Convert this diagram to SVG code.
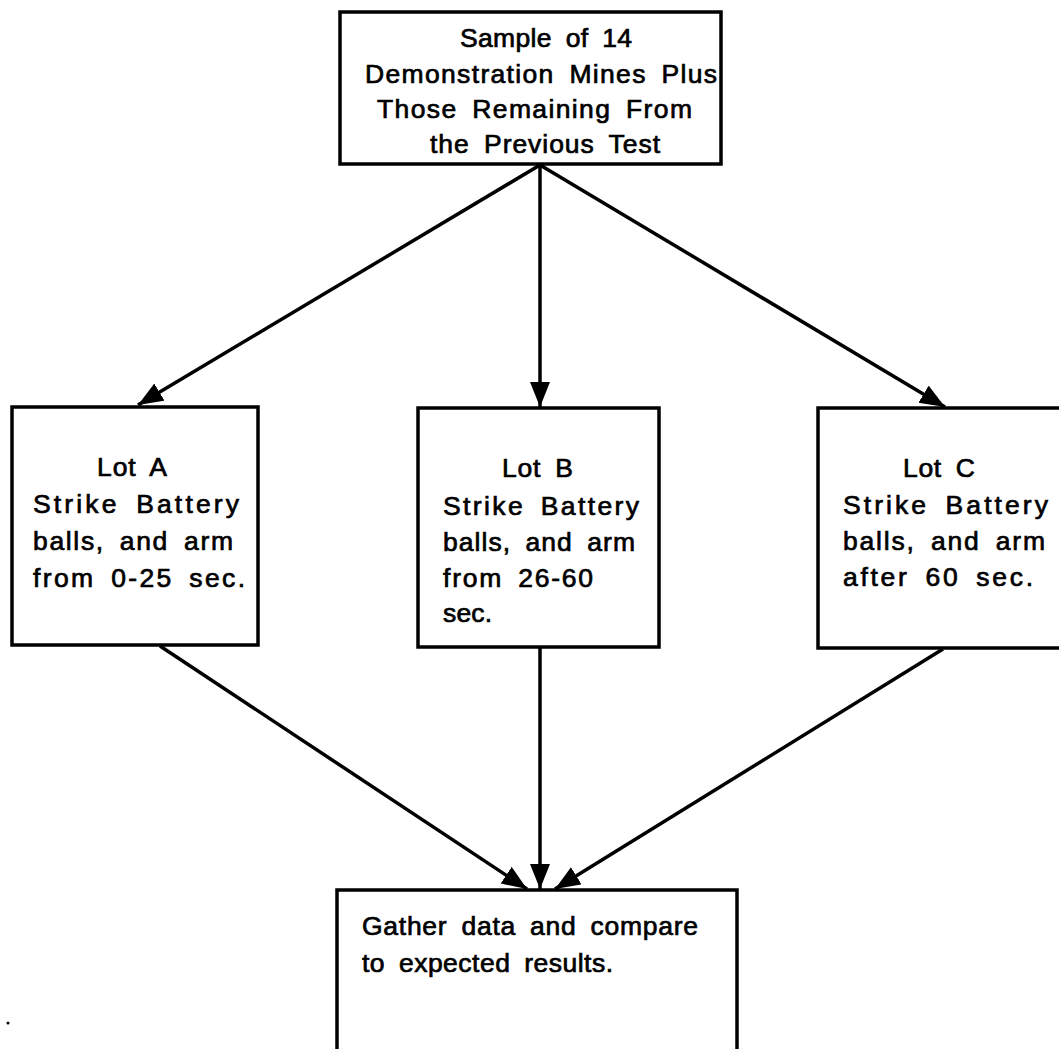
<svg xmlns="http://www.w3.org/2000/svg" width="1059" height="1049" viewBox="0 0 1059 1049">
<style>
.box{fill:#fff;stroke:#000;stroke-width:3.5}
.t{font-family:"Liberation Sans",Arial,sans-serif;font-size:26.5px;fill:#000;stroke:#000;stroke-width:0.7;word-spacing:6px}
.c{stroke:#000;stroke-width:3.5;fill:none;marker-end:url(#ah)}
</style>
<defs>
<marker id="ah" markerUnits="userSpaceOnUse" markerWidth="28" markerHeight="22" refX="25" refY="10" orient="auto">
<path d="M0,0 L25,10 L0,20 Z" fill="#000"/>
</marker>
</defs>
<rect width="1059" height="1049" fill="#fff"/>
<g id="connectors">
<line class="c" x1="540" y1="165" x2="138" y2="405"/>
<line class="c" x1="540" y1="165" x2="540" y2="407"/>
<line class="c" x1="540" y1="165" x2="945" y2="407"/>
<line class="c" x1="160" y1="646" x2="527" y2="889"/>
<line class="c" x1="540" y1="647" x2="540" y2="889"/>
<line class="c" x1="943" y1="649" x2="555" y2="889"/>
</g>
<g id="top">
<rect class="box" x="340" y="12" width="381" height="152"/>
<text class="t" x="460" y="47" textLength="172" lengthAdjust="spacing">Sample of 14</text>
<text class="t" x="365" y="83" textLength="352" lengthAdjust="spacing">Demonstration Mines Plus</text>
<text class="t" x="377" y="118" textLength="315" lengthAdjust="spacing">Those Remaining From</text>
<text class="t" x="430" y="153" textLength="230" lengthAdjust="spacing">the Previous Test</text>
</g>
<g id="lotA">
<rect class="box" x="12" y="407" width="246" height="238"/>
<text class="t" x="97" y="476" textLength="70" lengthAdjust="spacing">Lot A</text>
<text class="t" x="33" y="513" textLength="206" lengthAdjust="spacing">Strike Battery</text>
<text class="t" x="33" y="550" textLength="200" lengthAdjust="spacing">balls, and arm</text>
<text class="t" x="33" y="587" textLength="212" lengthAdjust="spacing">from 0-25 sec.</text>
</g>
<g id="lotB">
<rect class="box" x="418" y="408" width="241" height="239"/>
<text class="t" x="502" y="477" textLength="71" lengthAdjust="spacing">Lot B</text>
<text class="t" x="443" y="515" textLength="196" lengthAdjust="spacing">Strike Battery</text>
<text class="t" x="443" y="551" textLength="192" lengthAdjust="spacing">balls, and arm</text>
<text class="t" x="443" y="587" textLength="150" lengthAdjust="spacing">from 26-60</text>
<text class="t" x="443" y="622" textLength="49" lengthAdjust="spacing">sec.</text>
</g>
<g id="lotC">
<rect class="box" x="818" y="408" width="250" height="240"/>
<text class="t" x="903" y="477" textLength="72" lengthAdjust="spacing">Lot C</text>
<text class="t" x="843" y="514" textLength="205" lengthAdjust="spacing">Strike Battery</text>
<text class="t" x="843" y="550" textLength="202" lengthAdjust="spacing">balls, and arm</text>
<text class="t" x="843" y="586" textLength="190" lengthAdjust="spacing">after 60 sec.</text>
</g>
<g id="result">
<rect class="box" x="337" y="890" width="400" height="170"/>
<text class="t" x="362" y="935" textLength="336" lengthAdjust="spacing">Gather data and compare</text>
<text class="t" x="362" y="972" textLength="251" lengthAdjust="spacing">to expected results.</text>
</g>
<circle cx="8" cy="1023" r="1.5" fill="#000"/>
</svg>
